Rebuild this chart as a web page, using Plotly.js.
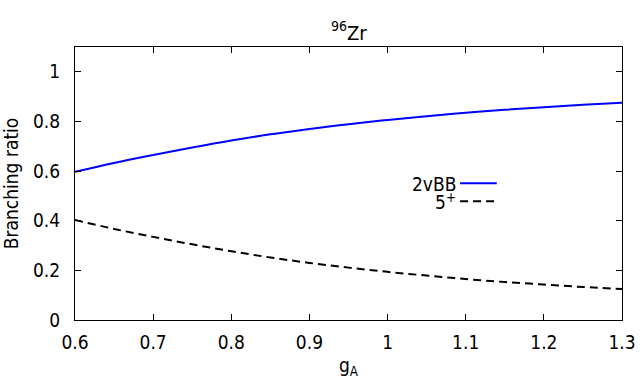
<!DOCTYPE html>
<html>
<head>
<meta charset="utf-8">
<script src="https://cdn.plot.ly/plotly-3.0.1.min.js"></script>
<style>
  html, body { margin: 0; padding: 0; background: #fff; }
  #plot { width: 640px; height: 387px; }
</style>
</head>
<body>
<div id="plot"></div>
<script>
// g_A values and the two branching ratios
const gA = [0.6, 0.65, 0.7, 0.75, 0.8, 0.85, 0.9, 0.95, 1.0, 1.05, 1.1, 1.15, 1.2, 1.25, 1.3];
const ratio2vBB = [0.597, 0.633, 0.665, 0.695, 0.723, 0.748, 0.770, 0.789, 0.806, 0.821, 0.835, 0.847, 0.857, 0.867, 0.875];
const ratio5plus = [0.403, 0.367, 0.335, 0.305, 0.277, 0.252, 0.230, 0.211, 0.194, 0.179, 0.165, 0.153, 0.143, 0.133, 0.125];
const seriesNames = ['2vBB', '5<sup>+</sup>'];

const font = { family: 'DejaVu Sans Condensed, Liberation Sans, sans-serif', size: 19, color: '#000' };

const data = [
  { x: gA, y: ratio2vBB, name: seriesNames[0], mode: 'lines', type: 'scatter',
    line: { color: '#0000ff', width: 2, shape: 'spline' } },
  { x: gA, y: ratio5plus, name: seriesNames[1], mode: 'lines', type: 'scatter',
    line: { color: '#000', width: 2, dash: '8px,5px', shape: 'spline' } }
];

// gnuplot-style key: label on the left, sample on the right
const keyX0 = 0.704, keyX1 = 0.771, keyY = [0.501, 0.435];
const annotations = seriesNames.map((n, i) => ({
  xref: 'paper', yref: 'paper', x: keyX0 - 0.004, y: keyY[i], height: 17,
  xanchor: 'right', yanchor: 'middle', text: n, showarrow: false, font: font
}));
const shapes = [
  { type: 'line', xref: 'paper', yref: 'paper', x0: keyX0, x1: keyX1, y0: keyY[0], y1: keyY[0],
    line: { color: '#0000ff', width: 2 } },
  { type: 'line', xref: 'paper', yref: 'paper', x0: keyX0, x1: keyX1, y0: keyY[1], y1: keyY[1],
    line: { color: '#000', width: 2, dash: '8px,5px' } }
];

Plotly.newPlot('plot', data, {
  width: 640, height: 387,
  margin: { l: 75, r: 18, t: 47, b: 67 },
  paper_bgcolor: '#fff', plot_bgcolor: '#fff',
  font: font,
  showlegend: false,
  title: { text: '<sup>96</sup>Zr', x: 0.545, xanchor: 'center', y: 0.915, yanchor: 'middle',
    font: Object.assign({}, font, { size: 20 }) },
  xaxis: {
    range: [0.6, 1.3], dtick: 0.1, tick0: 0.6,
    ticks: 'inside', ticklen: 6, tickcolor: '#000', tickwidth: 1,
    showline: true, linecolor: '#000', linewidth: 1, mirror: 'allticks',
    showgrid: false, zeroline: false, ticklabelstandoff: 5,
    title: { text: 'g<sub>A</sub>', font: font, standoff: 6 }
  },
  yaxis: {
    range: [0, 1.1], dtick: 0.2, tick0: 0,
    ticks: 'inside', ticklen: 6, tickcolor: '#000', tickwidth: 1,
    showline: true, linecolor: '#000', linewidth: 1, mirror: 'allticks',
    showgrid: false, zeroline: false, ticklabelstandoff: 10,
    title: { text: 'Branching ratio', font: font, standoff: 10 }
  },
  annotations: annotations,
  shapes: shapes
}, { staticPlot: true });
</script>
</body>
</html>
